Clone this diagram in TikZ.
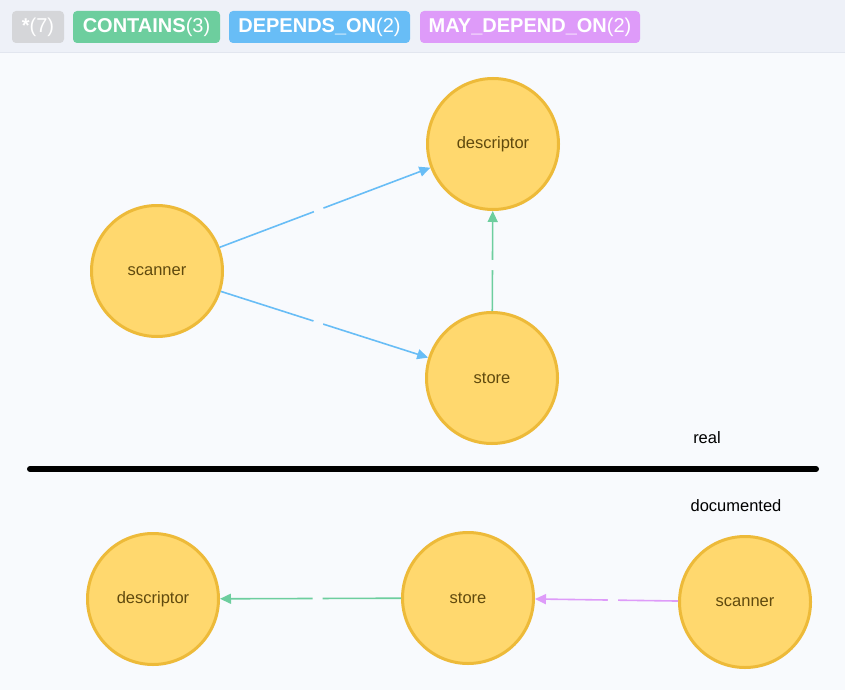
\documentclass[tikz,border=0pt]{standalone}
\usepackage{fontspec}
\setmainfont{Liberation Sans}
\usetikzlibrary{arrows.meta}
\definecolor{hdrbg}{HTML}{EEF1F8}
\definecolor{hdrline}{HTML}{E2E6EF}
\definecolor{mainbg}{HTML}{F8FAFD}
\definecolor{taggray}{HTML}{D5D6D9}
\definecolor{containsc}{HTML}{6DCE9E}
\definecolor{dependsc}{HTML}{68BDF6}
\definecolor{maydependc}{HTML}{DE9BF9}
\definecolor{nodefill}{HTML}{FFD86E}
\definecolor{nodeborder}{HTML}{EDBA39}
\definecolor{nodetext}{HTML}{604A0E}
\tikzset{
  tag/.style={rounded corners=4pt, minimum height=32pt, inner sep=0pt, text=white, font=\fontsize{20}{22}\selectfont, anchor=center},
  gnode/.style={circle, minimum size=131pt, inner sep=0pt, draw=nodeborder, line width=3pt, fill=nodefill, text=nodetext, font=\fontsize{16.5}{18}\selectfont},
  rel/.style={line width=1.6pt, -{Triangle[length=11pt,width=10pt]}},
  gap/.style={fill=mainbg, minimum width=10pt, minimum height=5pt, inner sep=0pt, sloped},
  caption/.style={text=black, font=\fontsize{16.5}{18}\selectfont}
}
\begin{document}
\begin{tikzpicture}[x=1pt,y=-1pt]
\useasboundingbox (0,0) rectangle (845,690);
\fill[mainbg] (0,0) rectangle (845,690);
\fill[hdrbg] (0,0) rectangle (845,52);
\draw[hdrline, line width=1pt] (0,52.5) -- (845,52.5);
% tags
\node[tag, fill=taggray, minimum width=52pt] (tagall) at (38,27) {\textbf{*}(7)};
\node[tag, fill=containsc, minimum width=147pt] (tagcont) at (146.5,27) {\textbf{CONTAINS}(3)};
\node[tag, fill=dependsc, minimum width=181pt] (tagdep) at (319.5,27) {\textbf{DEPENDS\_ON}(2)};
\node[tag, fill=maydependc, minimum width=220pt] (tagmay) at (530,27) {\textbf{MAY\_DEPEND\_ON}(2)};
% real graph
\node[gnode] (rdesc) at (493,144) {descriptor};
\node[gnode] (rscan) at (157,271) {scanner};
\node[gnode] (rstore) at (492,378) {store};
\draw[rel, dependsc] (rscan) -- node[gap, pos=0.47] (g1) {} (rdesc);
\draw[rel, dependsc] (rscan) -- node[gap, pos=0.47] (g2) {} (rstore);
\draw[rel, containsc] (rstore) -- node[gap, pos=0.46] (g3) {} (rdesc);
% separator
\coordinate (sepl) at (30,469);
\coordinate (sepr) at (816,469);
\draw[black, line width=6pt, line cap=round] (sepl) -- (sepr);
\node[caption] (lreal) at (707,438) {real};
\node[caption] (ldoc) at (736,506) {documented};
% documented graph
\node[gnode] (ddesc) at (153,599) {descriptor};
\node[gnode] (dstore) at (468,598) {store};
\node[gnode] (dscan) at (745,602) {scanner};
\draw[rel, containsc] (dstore) -- node[gap, pos=0.46] (g4) {} (ddesc);
\draw[rel, maydependc] (dscan) -- node[gap, pos=0.455] (g5) {} (dstore);
\end{tikzpicture}
\end{document}
